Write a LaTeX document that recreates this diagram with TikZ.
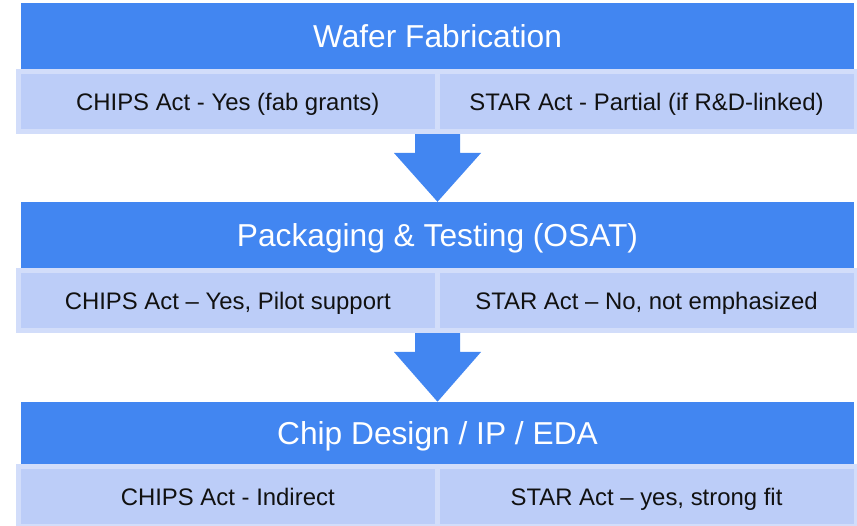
\documentclass[tikz,border=0pt]{standalone}
\usepackage{fontspec}
\setmainfont{Liberation Sans}
\usetikzlibrary{calc}
\definecolor{hdrblue}{HTML}{4286F1}
\definecolor{cellfill}{HTML}{BCCDF8}
\definecolor{cellrim}{HTML}{D2DDFA}
\definecolor{celltext}{HTML}{111111}
\tikzset{
  % capitals are centred vertically in every box (cap height of each size)
  hdr/.style={rectangle, fill=hdrblue, draw=none, inner sep=0pt,
    text height=22.7pt, text depth=0pt,
    minimum width=833pt, text=white, font=\fontsize{31.7}{38}\selectfont},
  cellbox/.style={rectangle, fill=cellfill, draw=cellrim, line width=5pt,
    inner sep=0pt, minimum height=60pt, text=celltext,
    text height=17.1pt, text depth=0pt,
    font=\fontsize{23.9}{28}\selectfont},
  leftcell/.style={cellbox, minimum width=418.5pt},
  rightcell/.style={cellbox, minimum width=419pt},
}
% block arrow from the bottom of a row of cells down to the next header
\newcommand{\flowarrow}[2]{%
  \fill[hdrblue] let \p1=(#1), \p2=(#2) in
    (\x2-22.5pt,\y1) -- (\x2+22.5pt,\y1) -- (\x2+22.5pt,\y1-19pt)
    -- (\x2+43.5pt,\y1-19pt) -- (\x2,\y2) -- (\x2-43.5pt,\y1-19pt)
    -- (\x2-22.5pt,\y1-19pt) -- cycle;}
\begin{document}
\begin{tikzpicture}[x=1pt,y=-1pt]
\useasboundingbox (0,0) rectangle (857,526);

% stage 1
\node[hdr, minimum height=66pt] (h1) at (437.5,36) {Wafer Fabrication};
% stage 2
\node[hdr, minimum height=66pt] (h2) at (437.5,235) {Packaging \& Testing (OSAT)};
% stage 3
\node[hdr, minimum height=62.5pt] (h3) at (437.5,433.2) {Chip Design / IP / EDA};

% arrows between stages (drawn beneath the cell rims)
\coordinate (a1) at (437.5,134);
\coordinate (a2) at (437.5,333);
\flowarrow{a1}{h2.north}
\flowarrow{a2}{h3.north}

% policy cells
\node[leftcell]  (c1l) at (227.75,101.5) {CHIPS Act - Yes (fab grants)};
\node[rightcell] (c1r) at (646.5,101.5)  {STAR Act - Partial (if R\&D-linked)};
\node[leftcell]  (c2l) at (227.75,300.5) {CHIPS Act -- Yes, Pilot support};
\node[rightcell] (c2r) at (646.5,300.5)  {STAR Act -- No, not emphasized};
\node[leftcell]  (c3l) at (227.75,496.5) {CHIPS Act - Indirect};
\node[rightcell] (c3r) at (646.5,496.5)  {STAR Act -- yes, strong fit};
\end{tikzpicture}
\end{document}
